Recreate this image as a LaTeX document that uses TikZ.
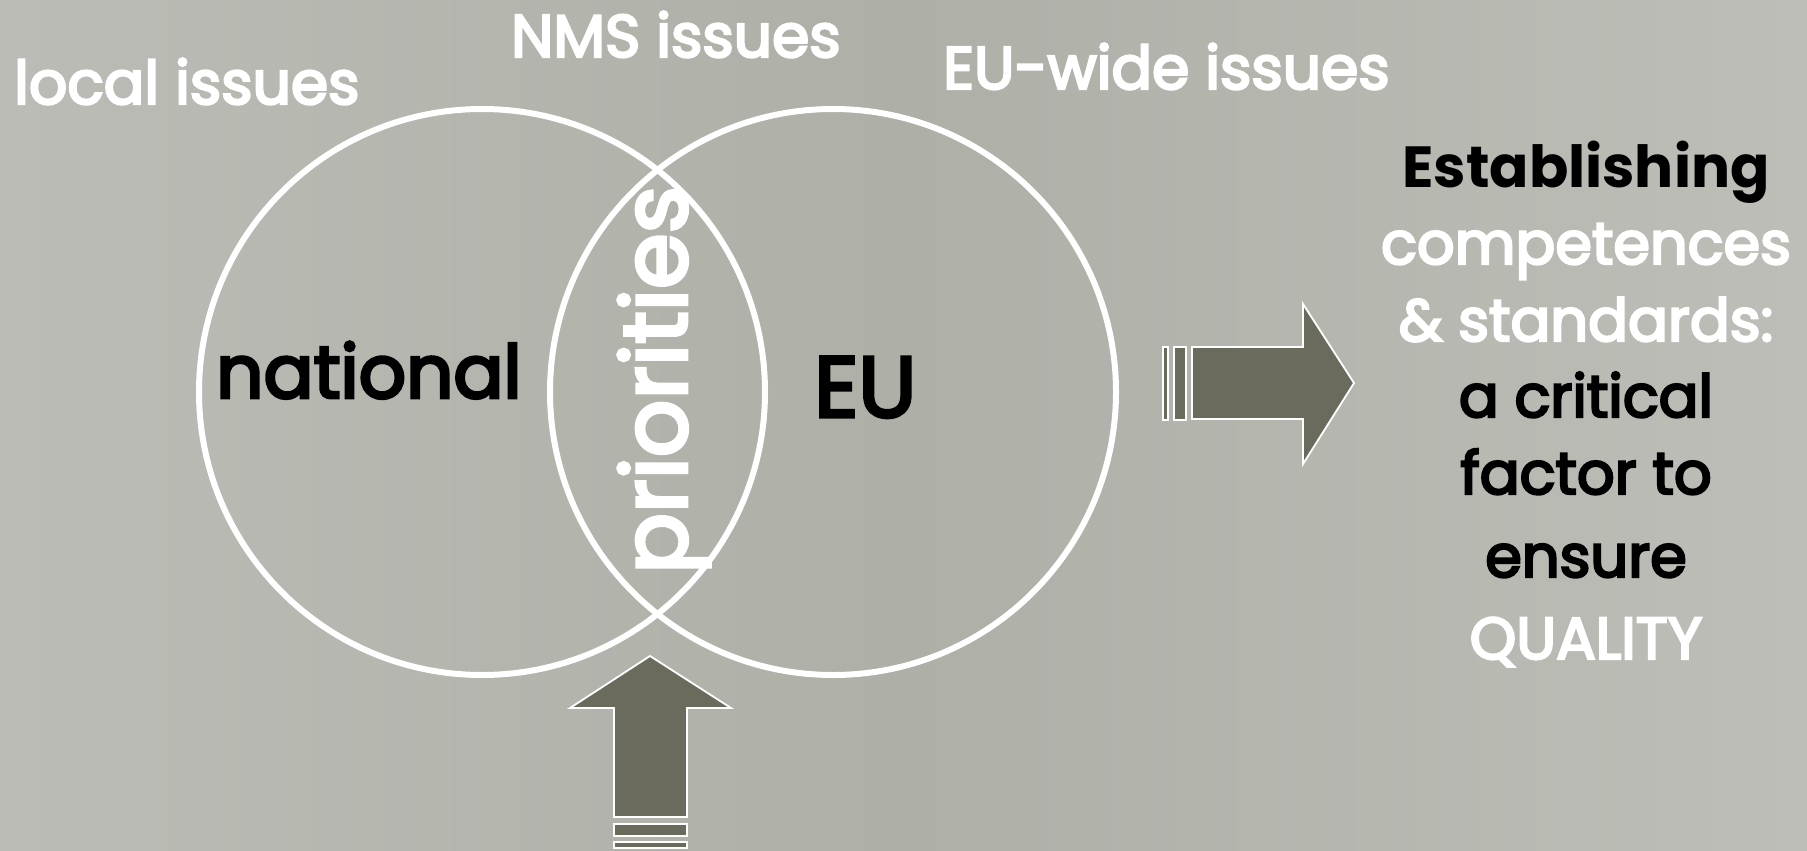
\documentclass[tikz,border=0pt]{standalone}
\usepackage{fontspec}
\setmainfont{Poppins}[UprightFeatures={FakeBold=4}]
\definecolor{bgmid}{HTML}{AEAFA7}
\definecolor{bgleft}{HTML}{BBBCB5}
\definecolor{bgright}{HTML}{BDBEB7}
\definecolor{arrowfill}{HTML}{6A6B5C}
\begin{document}
\begin{tikzpicture}[x=1pt,y=-1pt,
  ring/.style={circle,draw=white,line width=6pt,minimum size=566pt,inner sep=0pt},
  lbl/.style={text=white,inner sep=0pt,anchor=base west,font=\fontsize{60}{64}\selectfont},
  rline/.style={inner sep=0pt,anchor=base,font=\fontsize{59}{64}\selectfont},
  arrowshape/.style={fill=arrowfill,draw=white,line width=1.8pt,line join=miter}]
\useasboundingbox (0,0) rectangle (1807,851);
\shade[left color=bgleft,right color=bgright,middle color=bgmid] (0,0) rectangle (1807,851);
% circles
\node[ring] (nat) at (482,392) {};
\node[ring] (eu) at (833,392) {};
% top labels
\node[lbl] (local) at (14,104) {local issues};
\node[lbl] (nms) at (511,57) {NMS issues};
\node[lbl] (euwide) at (943,89) {EU-wide issues};
% inner labels
\node[inner sep=0pt,anchor=base west,font=\fontsize{74}{78}\selectfont] (national) at (216,398) {national};
\node[inner sep=0pt,anchor=base west,font=\fontsize{86}{90}\selectfont] (eutext) at (814,417) {EU};
\node[text=white,inner sep=0pt,rotate=90,font=\fontsize{90}{94}\selectfont] (prio) at (664,380) {priorities};
% right text
\node[rline,font=\fontsize{58}{64}\selectfont\bfseries] (l1) at (1586,187) {Establishing};
\node[rline,text=white] (l2) at (1586,264) {competences};
\node[rline,text=white] (l3) at (1586,341) {\& standards:};
\node[rline] (l4) at (1586,417) {a critical};
\node[rline] (l5) at (1586,494) {factor to};
\node[rline] (l6) at (1586,577) {ensure};
\node[rline,text=white] (l7) at (1586,659) {QUALITY};
% right arrow
\draw[arrowshape] (1163,347) rectangle (1168,420);
\draw[arrowshape] (1174,347) rectangle (1186,420);
\draw[arrowshape] (1192,347) -- (1303,347) -- (1303,304) -- (1354,383) -- (1303,464) -- (1303,419) -- (1192,419) -- cycle;
% up arrow
\draw[arrowshape] (650,656) -- (731,708) -- (687,708) -- (687,817) -- (614,817) -- (614,708) -- (570,708) -- cycle;
\draw[arrowshape] (614,824) rectangle (687,836);
\draw[arrowshape] (614,842) rectangle (687,848);
\end{tikzpicture}
\end{document}
